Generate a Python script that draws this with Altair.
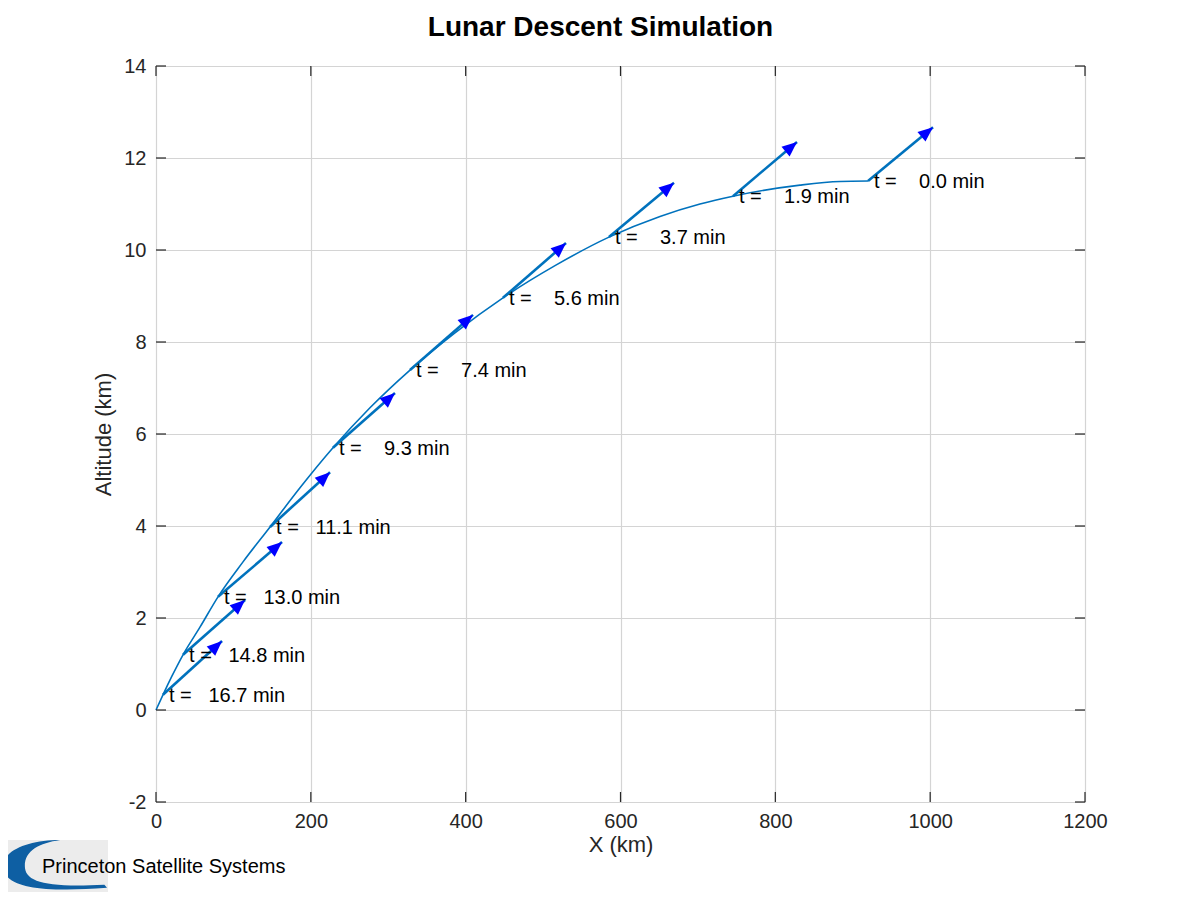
import math
import altair as alt
import pandas as pd

# ---------------- data ----------------
traj_x = [919.7, 883.5, 831.9, 745.3, 702.7, 651.0, 585.1, 515.4, 448.2, 386.2,
          328.1, 276.4, 228.6, 186.0, 147.3, 112.4, 80.1, 56.8, 34.9, 20.7, 9.0, 0.0]
traj_y = [11.50, 11.49, 11.41, 11.17, 11.00, 10.73, 10.28, 9.66, 8.96, 8.20,
          7.39, 6.57, 5.70, 4.83, 3.98, 3.22, 2.46, 1.80, 1.20, 0.74, 0.33, 0.0]

t_min = [0.0, 1.9, 3.7, 5.6, 7.4, 9.3, 11.1, 13.0, 14.8, 16.7]
start_x = [919.7, 745.3, 585.1, 448.2, 328.1, 228.6, 147.3, 80.1, 34.9, 9.0]
start_y = [11.50, 11.17, 10.28, 8.96, 7.39, 5.70, 3.98, 2.46, 1.20, 0.33]
tip_x = [1003.7, 828.0, 669.1, 529.6, 409.5, 308.7, 224.8, 162.8, 115.0, 85.3]
tip_y = [12.67, 12.35, 11.46, 10.15, 8.59, 6.89, 5.17, 3.65, 2.39, 1.50]

x_ticks = [0, 200, 400, 600, 800, 1000, 1200]
y_ticks = [-2, 0, 2, 4, 6, 8, 10, 12, 14]

# ---------------- layout / style ----------------
W, H = 929, 736
X_DOM, Y_DOM = [0, 1200], [-2, 14]
kx = W / (X_DOM[1] - X_DOM[0])
ky = H / (Y_DOM[1] - Y_DOM[0])
FONT = "Liberation Sans"
AX = "#262626"
LINE = "#0072BD"
GRID = "#d4d4d4"

traj = pd.DataFrame({"x": traj_x, "y": traj_y})

labels = []
angles = []
for t, sx, sy, tx, ty in zip(t_min, start_x, start_y, tip_x, tip_y):
    labels.append(("t = " + f"{t:6.1f}" + " min").replace(" ", "\u00a0"))
    a = math.degrees(math.atan2((tx - sx) * kx, (ty - sy) * ky)) % 360
    angles.append(a)
arr = pd.DataFrame({"x": start_x, "y": start_y, "x2": tip_x, "y2": tip_y,
                    "label": labels, "angle": angles})

xs = alt.Scale(domain=X_DOM, nice=False, zero=False)
ys = alt.Scale(domain=Y_DOM, nice=False, zero=False)
common = dict(grid=True, gridColor=GRID, gridWidth=1.2, domain=False, ticks=False,
              labelFontSize=20, labelFont=FONT, labelColor=AX, titleFont=FONT,
              titleFontSize=22, titleFontWeight="normal", titleColor=AX,
              labelFlush=False, labelOverlap=False,
              labelExpr="'' + datum.value")
xaxis = alt.Axis(values=x_ticks, title="X (km)", labelPadding=9, titlePadding=3, **common)
yaxis = alt.Axis(values=y_ticks, title="Altitude (km)", labelPadding=10, titlePadding=8,
                 **common)


def X(f):
    return alt.X(f, type="quantitative", scale=xs, axis=xaxis)


def Y(f):
    return alt.Y(f, type="quantitative", scale=ys, axis=yaxis)


line = alt.Chart(traj).mark_line(color=LINE, strokeWidth=1.6, interpolate="monotone").encode(
    x=X("x"), y=Y("y"), order=alt.Order("x:Q", sort="ascending"))

shafts = alt.Chart(arr).mark_rule(color=LINE, strokeWidth=2.6).encode(
    x=X("x"), y=Y("y"), x2="x2:Q", y2="y2:Q")

HEAD = "M0,0 L-0.42,1 L0.42,1 Z"
heads = alt.Chart(arr).mark_point(shape=HEAD, filled=True, color="#0000FF",
                                  opacity=1, size=900, strokeWidth=0).encode(
    x=X("x2"), y=Y("y2"), angle=alt.Angle("angle:Q", scale=None))

texts = alt.Chart(arr).mark_text(align="left", baseline="middle", dx=6, dy=1,
                                 fontSize=20, font=FONT, color="black").encode(
    x=X("x"), y=Y("y"), text="label:N")

# inward tick marks on all four sides (MATLAB box style)
xt = pd.DataFrame({"v": x_ticks})
yt = pd.DataFrame({"v": y_ticks})
TS = 400
tick_kw = dict(filled=False, color=AX, strokeWidth=1.2, opacity=1, size=TS)
t_bottom = alt.Chart(xt).mark_point(shape="M0,0 L0,-1", **tick_kw).encode(
    x=X("v"), y=alt.datum(Y_DOM[0], scale=ys))
t_top = alt.Chart(xt).mark_point(shape="M0,0 L0,1", **tick_kw).encode(
    x=X("v"), y=alt.datum(Y_DOM[1], scale=ys))
t_left = alt.Chart(yt).mark_point(shape="M0,0 L1,0", **tick_kw).encode(
    y=Y("v"), x=alt.datum(X_DOM[0], scale=xs))
t_right = alt.Chart(yt).mark_point(shape="M0,0 L-1,0", **tick_kw).encode(
    y=Y("v"), x=alt.datum(X_DOM[1], scale=xs))

# logo (bottom-left corner of the figure)
one = pd.DataFrame({"k": [0]})
logo_box = alt.Chart(one).mark_rect(color="#ececec").encode(
    x=alt.value(-154), x2=alt.value(-48), y=alt.value(774), y2=alt.value(826))
CRESCENT = ("M0.1,-0.5 C-0.5,-0.5 -1,-0.3 -1,0 C-1,0.4 -0.3,0.52 1,0.42 "
            "L0.95,0.36 C-0.2,0.42 -0.58,0.3 -0.58,0 C-0.58,-0.3 -0.3,-0.44 0.1,-0.5 Z")
logo_c = alt.Chart(one).mark_point(shape=CRESCENT, filled=True, color="#0e5fa3",
                                   opacity=1, size=(2 * 52) ** 2, strokeWidth=0).encode(
    x=alt.value(-101), y=alt.value(800))
logo_t = alt.Chart(one).mark_text(align="left", baseline="middle", fontSize=20,
                                  font=FONT, color="black").encode(
    x=alt.value(-114), y=alt.value(801), text=alt.value("Princeton Satellite Systems"))

chart = alt.layer(
    line, shafts, heads, texts, t_bottom, t_top, t_left, t_right,
    logo_box, logo_c, logo_t
).properties(
    width=W, height=H,
    title=alt.Title("Lunar Descent Simulation", font=FONT, fontSize=28,
                    fontWeight="bold", color="black", anchor="middle", offset=14, dx=-20),
    padding={"left": 148, "top": 58, "right": 100, "bottom": 90},
    autosize=alt.AutoSizeParams(type="none"),
).configure_view(stroke=AX, strokeWidth=1.2).configure(background="white")

chart.save("out.html", embed_options={"renderer": "svg", "actions": False})
